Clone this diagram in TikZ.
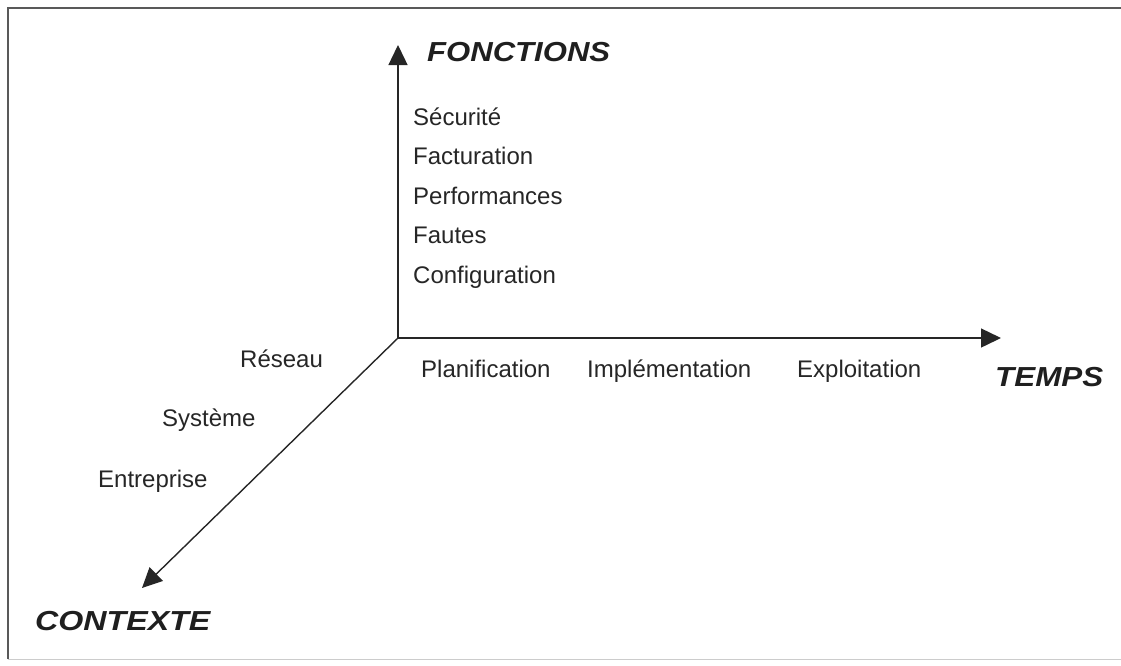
\documentclass[tikz,border=0pt]{standalone}
\usepackage{fontspec}
\setmainfont{Liberation Sans}
\usetikzlibrary{arrows.meta}
\begin{document}
\begin{tikzpicture}[x=1pt,y=-1pt,
  axis/.style={line width=1.4pt,draw=black!85,-{Triangle[length=20pt,width=19pt]}},
  item/.style={anchor=base west,inner sep=0pt,font=\fontsize{24}{28}\selectfont,text=black!85},
  axislabel/.style={anchor=base west,inner sep=0pt,font=\fontsize{27.5}{32}\selectfont\bfseries\itshape,text=black!88},
  frameline/.style={line width=1.6pt,draw=black!65}]
  \useasboundingbox (0,0) rectangle (1121,665);
  \clip (0,0) rectangle (1121,665);
  % frame around the figure
  \draw[frameline] (8,659) -- (8,8) -- (1125,8);
  \draw[line width=1pt,draw=black!20] (8,659) -- (1125,659);

  % axes
  \coordinate (O) at (398,338);
  \coordinate (ftip) at (398,45);
  \coordinate (ttip) at (1001,338);
  \coordinate (ctip) at (142,588);
  \draw[axis] (O) -- (ftip);
  \draw[axis] (O) -- (ttip);
  \draw[axis] (O) -- (ctip);

  % axis titles
  \node[axislabel] (fonctions) at (427,61) {\scalebox{1.13}[1]{FONCTIONS}};
  \node[axislabel] (temps) at (995,386) {\scalebox{1.14}[1]{TEMPS}};
  \node[axislabel] (contexte) at (35,630) {\scalebox{1.17}[1]{CONTEXTE}};

  % functions
  \node[item] (securite) at (413,125) {Sécurité};
  \node[item] (facturation) at (413,164.5) {Facturation};
  \node[item] (performances) at (413,204) {Performances};
  \node[item] (fautes) at (413,243.5) {Fautes};
  \node[item] (configuration) at (413,283) {Configuration};

  % time phases
  \node[item] (planification) at (421,377) {Planification};
  \node[item] (implementation) at (587,377) {Implémentation};
  \node[item] (exploitation) at (797,377) {Exploitation};

  % context levels
  \node[item] (reseau) at (240,367) {Réseau};
  \node[item] (systeme) at (162,426) {Système};
  \node[item] (entreprise) at (98,487) {Entreprise};
\end{tikzpicture}
\end{document}
